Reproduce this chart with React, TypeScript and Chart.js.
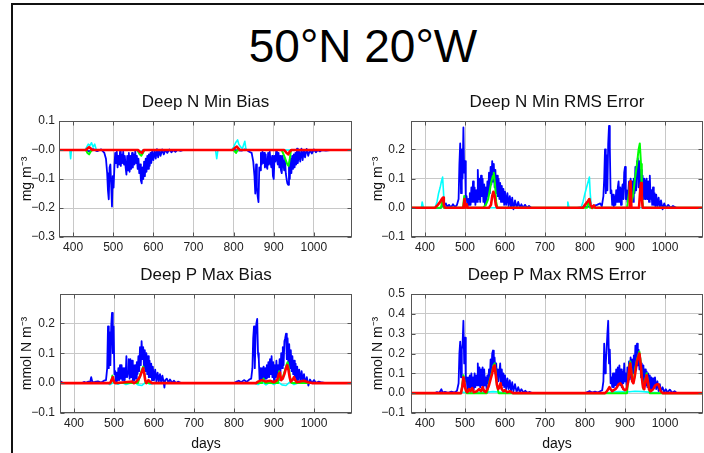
import React, { useEffect, useRef } from "react";
import { Chart, registerables } from "chart.js";
Chart.register(...registerables);

type Pt = [number, number];

const FONT = "'Liberation Sans', Arial, Helvetica, sans-serif";
const MAIN_TITLE = "50°N 20°W";
const DAY_MIN = 365;
const DAY_MAX = 1095;
const X_STEP = 100;
const X_LABEL = "days";

// ---------- Panel 1: Deep N Min Bias ----------
const nMinBiasBlue: Pt[] = [
  [365, 0], [430, 0], [440, -0.005], [450, 0.003], [460, -0.004], [470, 0.002], [478, -0.01], [482, -0.03],
  [485, -0.08], [487, -0.14], [489, -0.17], [491, -0.06], [493, -0.05], [495, -0.12], [497, -0.195], [499, -0.09],
  [501, -0.13], [503, -0.06], [505, -0.01], [507, -0.045], [509, -0.005], [511, -0.06], [513, -0.02], [515, -0.05],
  [517, -0.005], [519, -0.055], [521, -0.015], [523, -0.045], [525, -0.005], [527, -0.05], [529, -0.02], [531, -0.06],
  [533, -0.085], [535, -0.02], [537, -0.07], [539, -0.01], [541, -0.075], [543, -0.02], [545, -0.065], [547, -0.01],
  [549, -0.06], [551, -0.015], [553, -0.05], [555, -0.005], [557, -0.045], [559, -0.02], [561, -0.065], [563, -0.03],
  [565, -0.08], [567, -0.05], [569, -0.105], [571, -0.115], [573, -0.06], [575, -0.1], [577, -0.04], [579, -0.09],
  [581, -0.03], [583, -0.075], [585, -0.02], [587, -0.065], [589, -0.015], [591, -0.055], [593, -0.01], [595, -0.045],
  [597, -0.005], [600, -0.035], [603, -0.002], [606, -0.03], [609, 0.003], [612, -0.025], [615, 0], [618, -0.02],
  [622, 0.002], [626, -0.015], [630, 0], [635, -0.01], [640, 0.002], [645, -0.008], [650, 0], [655, -0.006],
  [660, 0], [668, -0.003], [675, 0], [800, 0], [820, -0.002], [830, 0.003], [838, -0.005], [845, -0.01],
  [849, -0.04], [852, -0.09], [854, -0.15], [856, -0.05], [858, -0.13], [860, -0.16], [862, -0.18], [864, -0.06],
  [866, -0.07], [868, -0.01], [870, -0.05], [872, -0.005], [874, -0.045], [876, -0.01], [878, -0.06], [880, -0.015],
  [882, -0.055], [884, -0.065], [886, -0.01], [888, -0.05], [890, -0.005], [892, -0.04], [894, -0.06], [896, -0.02],
  [898, -0.09], [900, -0.1], [902, -0.02], [904, -0.04], [906, -0.005], [908, -0.03], [910, -0.05], [912, -0.01],
  [914, -0.06], [916, -0.02], [918, -0.07], [920, -0.08], [922, -0.02], [924, -0.045], [926, -0.07], [928, -0.03],
  [930, -0.08], [932, -0.1], [934, -0.115], [936, -0.12], [938, -0.05], [940, -0.1], [942, -0.03], [944, -0.08],
  [946, -0.02], [948, -0.065], [950, -0.015], [952, -0.06], [954, -0.01], [956, -0.05], [958, 0.005], [960, -0.045],
  [963, -0.005], [966, -0.04], [969, 0.005], [972, -0.035], [975, 0], [978, -0.025], [982, 0.004], [986, -0.02],
  [990, 0], [995, -0.012], [1000, 0.002], [1005, -0.008], [1010, 0], [1015, -0.005], [1020, 0], [1030, -0.002],
  [1040, 0], [1095, 0],
];
const nMinBiasCyan: Pt[] = [
  [365, 0], [392, 0], [394, -0.03], [396, 0], [430, 0], [434, 0.01], [438, 0.02], [442, 0.015], [446, 0.025],
  [450, 0.01], [454, 0.02], [458, 0], [560, 0], [565, -0.01], [570, -0.005], [575, 0], [755, 0], [758, -0.03],
  [761, 0], [795, 0], [800, 0.01], [805, 0.025], [810, 0.035], [813, 0.02], [818, 0.01], [822, 0.005], [828, 0.03],
  [831, 0], [1095, 0],
];
const nMinBiasGreen: Pt[] = [
  [365, 0], [432, 0], [436, -0.01], [440, -0.015], [444, -0.005], [448, 0], [560, 0], [566, -0.015], [570, -0.02],
  [574, -0.01], [578, 0], [800, 0], [806, -0.01], [810, 0], [920, 0], [926, -0.02], [930, -0.035], [934, -0.05],
  [937, -0.055], [940, -0.03], [943, 0], [1095, 0],
];
const nMinBiasRed: Pt[] = [
  [365, 0], [432, 0], [436, 0.005], [440, 0.01], [444, 0.005], [448, 0], [562, 0], [568, -0.008], [572, -0.01],
  [576, 0], [798, 0], [804, 0.008], [808, 0.012], [812, 0.005], [816, 0], [926, 0], [932, -0.01], [936, -0.015],
  [940, -0.005], [944, 0], [1095, 0],
];

// ---------- Panel 2: Deep N Min RMS Error ----------
const nMinRmsBlue: Pt[] = [
  [365, 0], [440, 0], [445, 0.01], [448, 0.002], [452, 0.015], [456, 0.002], [460, 0.01], [465, 0.001], [470, 0.012],
  [475, 0.002], [480, 0.01], [484, 0.03], [486, 0.15], [488, 0.22], [490, 0.05], [492, 0.2], [494, 0.1], [496, 0.275],
  [498, 0.12], [500, 0.16], [502, 0.03], [504, 0.04], [506, 0.005], [508, 0.03], [510, 0.01], [512, 0.05], [514, 0.01],
  [516, 0.07], [518, 0.02], [520, 0.09], [522, 0.02], [524, 0.07], [526, 0.01], [528, 0.06], [530, 0.02], [532, 0.13],
  [534, 0.03], [536, 0.1], [538, 0.02], [540, 0.11], [542, 0.04], [544, 0.1], [546, 0.02], [548, 0.08], [550, 0.01],
  [552, 0.07], [554, 0.02], [556, 0.09], [558, 0.04], [560, 0.12], [562, 0.05], [564, 0.14], [566, 0.08], [568, 0.16],
  [570, 0.09], [572, 0.15], [574, 0.07], [576, 0.13], [578, 0.05], [580, 0.11], [582, 0.04], [584, 0.1], [586, 0.03],
  [588, 0.085], [590, 0.02], [592, 0.075], [594, 0.02], [596, 0.065], [598, 0.01], [600, 0.055], [603, 0.01],
  [606, 0.05], [609, 0.005], [612, 0.04], [615, 0.002], [618, 0.035], [621, -0.005], [625, 0.025], [629, 0],
  [633, 0.02], [637, 0], [641, 0.012], [645, 0], [650, 0.01], [655, 0], [660, 0.006], [665, 0],
  [780, 0], [800, 0.003], [820, 0.006], [830, 0.01], [838, 0.015], [842, 0.005], [846, 0.04], [848, 0.1], [850, 0.2],
  [852, 0.05], [854, 0.18], [856, 0.06], [858, 0.22], [860, 0.28], [862, 0.21], [864, 0.05], [866, 0.06], [868, 0.01],
  [870, 0.045], [872, 0.005], [874, 0.04], [876, 0.01], [878, 0.06], [880, 0.02], [882, 0.07], [884, 0.09], [886, 0.02],
  [888, 0.07], [890, 0.01], [892, 0.06], [894, 0.08], [896, 0.03], [898, 0.12], [900, 0.14], [902, 0.03], [904, 0.06],
  [906, 0.02], [908, 0.05], [910, 0.09], [912, 0.02], [914, 0.1], [916, 0.03], [918, 0.09], [920, 0.02], [922, 0.1],
  [924, 0.05], [926, 0.14], [928, 0.06], [930, 0.16], [932, 0.17], [934, 0.07], [936, 0.16], [938, 0.05], [940, 0.13],
  [942, 0.04], [944, 0.11], [946, 0.03], [948, 0.1], [950, 0.03], [952, 0.09], [954, 0.1], [956, 0.03], [958, 0.09],
  [960, 0.02], [962, 0.11], [964, 0.03], [966, 0.06], [968, 0.01], [970, 0.07], [972, 0.01], [974, 0.05], [976, 0.005],
  [978, 0.045], [981, 0.005], [984, 0.035], [987, 0], [990, 0.025], [994, -0.005], [998, 0.015], [1002, 0],
  [1008, 0.01], [1014, 0], [1020, 0.006], [1028, 0], [1095, 0],
];
const nMinRmsCyan: Pt[] = [
  [365, 0], [391, 0], [393, 0.02], [396, 0], [425, 0], [430, 0.02], [434, 0.05], [438, 0.07], [441, 0.09],
  [444, 0.105], [446, 0.06], [448, 0.01], [452, 0], [755, 0], [757, 0.02], [760, 0], [790, 0], [795, 0.02],
  [800, 0.05], [804, 0.07], [808, 0.09], [811, 0.105], [813, 0.05], [816, 0], [1095, 0],
];
const nMinRmsGreen: Pt[] = [
  [365, 0], [440, 0], [444, 0.03], [447, 0], [495, 0], [498, 0.04], [501, 0], [545, 0], [552, 0.01], [558, 0.03],
  [562, 0.06], [566, 0.09], [570, 0.11], [572, 0.12], [575, 0.08], [578, 0.02], [581, 0], [805, 0], [810, 0.03],
  [813, 0], [905, 0], [910, 0.05], [913, 0.09], [916, 0.02], [920, 0.04], [925, 0.1], [930, 0.15], [934, 0.2],
  [937, 0.22], [940, 0.15], [942, 0.05], [945, 0], [1095, 0],
];
const nMinRmsRed: Pt[] = [
  [365, 0], [425, 0], [432, 0.01], [438, 0.02], [442, 0.03], [445, 0.035], [447, 0.01], [450, 0], [496, 0],
  [499, 0.03], [501, 0], [504, 0.012], [507, 0], [560, 0], [565, 0.01], [568, 0.04], [571, 0.055], [574, 0.04],
  [577, 0.01], [580, 0], [795, 0], [800, 0.01], [806, 0.02], [811, 0.03], [814, 0.01], [818, 0], [822, 0.008],
  [826, 0], [910, 0], [912, 0.085], [914, 0.09], [916, 0], [935, 0], [938, 0.06], [940, 0.085], [942, 0.04],
  [944, 0], [1095, 0],
];

// ---------- Panel 3: Deep P Max Bias ----------
const pMaxBiasBlue: Pt[] = [
  [365, 0], [368, 0.005], [372, 0], [420, 0], [425, 0.004], [430, 0.001], [436, 0.005], [440, 0.002], [443, 0.02],
  [446, 0.003], [452, 0.004], [460, 0.006], [468, 0.002], [475, 0.008], [480, 0.01], [483, 0.05], [485, 0.19],
  [487, 0.05], [489, 0.17], [491, 0.06], [493, 0.19], [495, 0.235], [497, 0.1], [499, 0.19], [501, 0.03], [503, 0.04],
  [505, 0.005], [507, 0.035], [509, 0.01], [511, 0.05], [513, 0.01], [515, 0.06], [517, 0.015], [519, 0.06],
  [521, 0.01], [523, 0.05], [525, 0.01], [527, 0.05], [529, 0.02], [531, 0.09], [533, 0.02], [535, 0.04],
  [537, 0.08], [539, 0.015], [541, 0.08], [543, 0.02], [545, 0.075], [547, 0.01], [549, 0.06], [551, 0.01],
  [553, 0.06], [555, 0.015], [557, 0.07], [559, 0.03], [561, 0.09], [563, 0.04], [565, 0.12], [567, 0.06], [569, 0.14],
  [571, 0.08], [573, 0.12], [575, 0.05], [577, 0.11], [579, 0.04], [581, 0.1], [583, 0.03], [585, 0.09], [587, 0.02],
  [589, 0.075], [591, 0.02], [593, 0.065], [595, 0.01], [597, 0.055], [600, 0.01], [603, 0.045], [606, 0.005],
  [609, 0.035], [612, 0.005], [615, 0.03], [618, 0.002], [621, 0.025], [624, 0.005], [626, -0.015], [628, 0.01],
  [632, 0.015], [636, 0.002], [640, 0.012], [645, 0.001], [650, 0.008], [655, 0], [660, 0.005], [668, 0],
  [800, 0], [805, 0.004], [812, 0.008], [818, 0.003], [825, 0.01], [832, 0.004], [838, 0.012], [843, 0.015],
  [846, 0.05], [848, 0.15], [850, 0.19], [852, 0.05], [854, 0.16], [856, 0.2], [858, 0.215], [860, 0.1], [862, 0.08],
  [864, 0.01], [866, 0.05], [868, 0.01], [870, 0.05], [872, 0.01], [874, 0.055], [876, 0.01], [878, 0.05],
  [880, 0.015], [882, 0.06], [884, 0.02], [886, 0.07], [888, 0.02], [890, 0.08], [892, 0.03], [894, 0.09],
  [896, 0.02], [898, 0.07], [900, 0.01], [902, 0.06], [904, 0.02], [906, 0.075], [908, 0.02], [910, 0.06],
  [912, 0.01], [914, 0.08], [916, 0.03], [918, 0.1], [920, 0.05], [922, 0.12], [924, 0.06], [926, 0.14], [928, 0.15],
  [930, 0.165], [932, 0.08], [934, 0.15], [936, 0.06], [938, 0.13], [940, 0.05], [942, 0.11], [944, 0.04], [946, 0.09],
  [948, 0.03], [950, 0.075], [952, 0.02], [954, 0.065], [956, 0.01], [958, 0.055], [960, 0.01], [963, 0.045],
  [966, 0.005], [969, 0.04], [972, 0.005], [975, 0.03], [978, 0], [982, 0.02], [986, -0.008], [990, 0.012],
  [995, 0], [1000, 0.01], [1005, 0], [1012, 0.005], [1020, 0.002], [1030, 0], [1095, 0],
];
const pMaxBiasCyan: Pt[] = [
  [365, 0], [485, 0], [490, -0.005], [500, 0.003], [510, -0.004], [520, 0.002], [530, -0.005], [550, 0.004],
  [560, -0.006], [570, -0.008], [580, 0.003], [590, -0.004], [600, 0], [850, 0], [860, -0.005], [870, 0.004],
  [880, -0.006], [890, 0.003], [900, -0.005], [910, 0.004], [920, -0.006], [930, -0.008], [940, 0.004],
  [950, -0.005], [960, 0], [1095, 0],
];
const pMaxBiasGreen: Pt[] = [
  [365, 0], [492, 0], [496, 0.025], [499, 0.005], [502, 0], [560, 0], [566, 0.03], [570, 0.045], [573, 0.055],
  [576, 0.03], [579, 0], [870, 0], [874, 0.015], [878, 0], [910, 0], [913, 0.04], [916, 0.01], [922, 0.02],
  [927, 0.04], [931, 0.06], [934, 0.07], [937, 0.05], [940, 0.02], [944, 0], [1095, 0],
];
const pMaxBiasRed: Pt[] = [
  [365, 0], [490, 0], [494, 0.01], [497, 0.02], [500, 0.005], [503, 0], [520, 0.002], [545, 0.005], [550, 0],
  [556, 0.005], [562, 0.015], [566, 0.025], [570, 0.04], [573, 0.05], [576, 0.03], [578, 0.01], [581, 0],
  [586, 0.01], [590, 0.005], [595, 0], [855, 0], [860, 0.005], [870, 0.01], [880, 0.005], [890, 0.008],
  [900, 0.003], [908, 0.01], [912, 0.03], [915, 0.035], [918, 0.01], [922, 0.015], [926, 0.03], [930, 0.05],
  [933, 0.06], [936, 0.045], [939, 0.02], [942, 0.005], [946, 0.01], [950, 0.02], [953, 0.01], [957, 0.003],
  [965, 0.005], [975, 0.008], [985, 0.003], [995, 0], [1095, 0],
];

// ---------- Panel 4: Deep P Max RMS Error ----------
const pMaxRmsBlue: Pt[] = [
  [365, 0], [425, 0], [430, 0.005], [436, 0.002], [441, 0.02], [444, 0.003], [450, 0.006], [458, 0.002],
  [466, 0.008], [474, 0.003], [480, 0.012], [484, 0.05], [486, 0.2], [488, 0.26], [490, 0.08], [492, 0.22],
  [494, 0.25], [496, 0.365], [498, 0.15], [500, 0.28], [502, 0.06], [504, 0.08], [506, 0.02], [508, 0.08],
  [510, 0.02], [512, 0.09], [514, 0.03], [516, 0.1], [518, 0.02], [520, 0.08], [522, 0.02], [524, 0.1], [526, 0.03],
  [528, 0.09], [530, 0.04], [532, 0.15], [534, 0.04], [536, 0.13], [538, 0.03], [540, 0.12], [542, 0.04], [544, 0.13],
  [546, 0.03], [548, 0.12], [550, 0.04], [552, 0.08], [554, 0.02], [556, 0.09], [558, 0.05], [560, 0.12],
  [562, 0.07], [564, 0.17], [566, 0.1], [568, 0.2], [570, 0.215], [572, 0.12], [574, 0.18], [576, 0.1],
  [578, 0.15], [580, 0.07], [582, 0.12], [584, 0.06], [586, 0.11], [588, 0.15], [590, 0.05], [592, 0.12],
  [594, 0.04], [596, 0.1], [598, 0.03], [600, 0.09], [603, 0.02], [606, 0.075], [609, 0.02], [612, 0.065],
  [615, 0.01], [618, 0.055], [621, 0.01], [625, 0.045], [629, 0.005], [633, 0.03], [637, 0.005], [641, 0.02],
  [646, 0.003], [651, 0.012], [656, 0.002], [662, 0.006], [668, 0], [800, 0], [806, 0.005], [812, 0.01],
  [818, 0.003], [825, 0.008], [832, 0.003], [838, 0.01], [843, 0.015], [846, 0.06], [848, 0.25], [850, 0.1],
  [852, 0.15], [854, 0.22], [856, 0.3], [858, 0.365], [860, 0.15], [862, 0.22], [864, 0.05], [866, 0.08], [868, 0.03],
  [870, 0.1], [872, 0.03], [874, 0.1], [876, 0.04], [878, 0.12], [880, 0.04], [882, 0.13], [884, 0.05], [886, 0.14],
  [888, 0.04], [890, 0.12], [892, 0.03], [894, 0.11], [896, 0.05], [898, 0.15], [900, 0.06], [902, 0.1], [904, 0.04],
  [906, 0.13], [908, 0.05], [910, 0.16], [912, 0.07], [914, 0.18], [916, 0.08], [918, 0.17], [920, 0.1], [922, 0.19],
  [924, 0.12], [926, 0.24], [928, 0.15], [930, 0.25], [932, 0.14], [934, 0.22], [936, 0.12], [938, 0.18], [940, 0.08],
  [942, 0.15], [944, 0.06], [946, 0.14], [948, 0.05], [950, 0.12], [952, 0.04], [954, 0.11], [956, 0.03], [958, 0.1],
  [960, 0.03], [962, 0.09], [964, 0.02], [966, 0.08], [968, 0.02], [970, 0.075], [972, 0.03], [975, 0.08],
  [978, 0.02], [981, 0.06], [984, 0.01], [987, 0.045], [990, 0.01], [994, 0.03], [998, 0.005], [1002, 0.02],
  [1006, 0.003], [1012, 0.018], [1018, 0.002], [1024, 0.01], [1030, 0], [1036, 0], [1095, 0],
];
const pMaxRmsCyan: Pt[] = [
  [365, 0], [485, 0], [495, 0.005], [510, 0.003], [530, 0.006], [550, 0.004], [570, 0.008], [590, 0.005],
  [610, 0.002], [630, 0], [850, 0], [865, 0.005], [885, 0.008], [905, 0.006], [925, 0.01], [945, 0.008],
  [965, 0.004], [985, 0.002], [1000, 0], [1095, 0],
];
const pMaxRmsGreen: Pt[] = [
  [365, 0], [490, 0], [493, 0.04], [496, 0.09], [498, 0.07], [500, 0.03], [504, 0], [555, 0], [560, 0.05],
  [564, 0.08], [568, 0.11], [571, 0.14], [574, 0.15], [577, 0.1], [580, 0.04], [584, 0], [905, 0], [908, 0.07],
  [911, 0.14], [913, 0.16], [915, 0.13], [918, 0.07], [922, 0.06], [926, 0.13], [930, 0.17], [933, 0.19],
  [936, 0.21], [939, 0.16], [942, 0.08], [946, 0.02], [950, 0.06], [954, 0.1], [958, 0.05], [962, 0], [1095, 0],
];
const pMaxRmsRed: Pt[] = [
  [365, 0], [490, 0], [493, 0.03], [496, 0.08], [498, 0.06], [500, 0.03], [503, 0.01], [506, 0.005], [510, 0.02],
  [514, 0.01], [518, 0.025], [522, 0.005], [530, 0.01], [535, 0.02], [540, 0.01], [544, 0.03], [548, 0.01],
  [552, 0.005], [556, 0.02], [560, 0.04], [564, 0.07], [568, 0.1], [571, 0.13], [574, 0.14], [577, 0.09],
  [580, 0.04], [583, 0.02], [586, 0.03], [589, 0.05], [592, 0.02], [596, 0.01], [600, 0.015], [605, 0.005],
  [612, 0.01], [620, 0], [850, 0], [855, 0.01], [858, 0.02], [861, 0.03], [864, 0.02], [868, 0.01], [872, 0.015],
  [876, 0.02], [880, 0.03], [884, 0.045], [888, 0.05], [892, 0.04], [896, 0.02], [900, 0.015], [904, 0.02],
  [908, 0.06], [911, 0.13], [913, 0.15], [915, 0.12], [918, 0.06], [921, 0.05], [924, 0.08], [927, 0.12],
  [930, 0.16], [933, 0.18], [936, 0.2], [939, 0.15], [942, 0.08], [945, 0.03], [948, 0.02], [951, 0.06],
  [954, 0.09], [957, 0.06], [960, 0.02], [964, 0.01], [968, 0.015], [972, 0.025], [976, 0.04], [980, 0.045],
  [983, 0.045], [986, 0.03], [989, 0.01], [994, 0], [1095, 0],
];

const COLORS = { blue: "#0000ff", cyan: "#00ffff", green: "#00ff00", red: "#ff0000" };

type PanelSpec = {
  title: string;
  yLabel: string;
  yMin: number;
  yMax: number;
  negZero: boolean;
  showDays: boolean;
  blue: Pt[];
  cyan: Pt[];
  green: Pt[];
  red: Pt[];
  left: number;
  top: number;
  w: number;
  h: number;
  yAxisW: number;
  xAxisH: number;
  padRight: number;
  titleTop: number;
  titleBottom: number;
  yTitlePad: number;
  yTickPad: number;
};

const panels: PanelSpec[] = [
  {
    title: "Deep N Min Bias", yLabel: "mg m⁻³", yMin: -0.3, yMax: 0.1, negZero: true, showDays: false,
    blue: nMinBiasBlue, cyan: nMinBiasCyan, green: nMinBiasGreen, red: nMinBiasRed,
    left: 12, top: 80, w: 350, h: 177, yAxisW: 47, xAxisH: 20, padRight: 10,
    titleTop: 12, titleBottom: 8.6, yTitlePad: 6.6, yTickPad: 4,
  },
  {
    title: "Deep N Min RMS Error", yLabel: "mg m⁻³", yMin: -0.1, yMax: 0.297, negZero: false, showDays: false,
    blue: nMinRmsBlue, cyan: nMinRmsCyan, green: nMinRmsGreen, red: nMinRmsRed,
    left: 362, top: 80, w: 342, h: 177, yAxisW: 49, xAxisH: 20, padRight: 1,
    titleTop: 12, titleBottom: 8.6, yTitlePad: 7.6, yTickPad: 6,
  },
  {
    title: "Deep P Max Bias", yLabel: "mmol N m⁻³", yMin: -0.1, yMax: 0.298, negZero: false, showDays: true,
    blue: pMaxBiasBlue, cyan: pMaxBiasCyan, green: pMaxBiasGreen, red: pMaxBiasRed,
    left: 12, top: 257, w: 350, h: 196, yAxisW: 48, xAxisH: 40, padRight: 10,
    titleTop: 8, titleBottom: 8.6, yTitlePad: 7.1, yTickPad: 5,
  },
  {
    title: "Deep P Max RMS Error", yLabel: "mmol N m⁻³", yMin: -0.1, yMax: 0.5, negZero: false, showDays: true,
    blue: pMaxRmsBlue, cyan: pMaxRmsCyan, green: pMaxRmsGreen, red: pMaxRmsRed,
    left: 362, top: 257, w: 342, h: 196, yAxisW: 49, xAxisH: 40, padRight: 1,
    titleTop: 8, titleBottom: 8.6, yTitlePad: 7.6, yTickPad: 6,
  },
];

const toXY = (pts: Pt[]) => pts.map(([x, y]) => ({ x, y }));

const framePlugin = {
  id: "plotFrame",
  afterDatasetsDraw(chart: any) {
    const { ctx, chartArea: a, scales } = chart;
    ctx.save();
    ctx.strokeStyle = "#555";
    ctx.lineWidth = 1;
    const l = Math.round(a.left) + 0.5;
    const t = Math.round(a.top) + 0.5;
    const r = Math.round(a.right) - 0.5;
    const b = Math.round(a.bottom) - 0.5;
    ctx.strokeRect(l, t, r - l, b - t);
    const L = 4;
    ctx.beginPath();
    for (const tk of scales.x.ticks) {
      const px = Math.round(scales.x.getPixelForValue(tk.value)) + 0.5;
      ctx.moveTo(px, t); ctx.lineTo(px, t + L);
      ctx.moveTo(px, b); ctx.lineTo(px, b - L);
    }
    for (const tk of scales.y.ticks) {
      const py = Math.round(scales.y.getPixelForValue(tk.value)) + 0.5;
      ctx.moveTo(l, py); ctx.lineTo(l + L, py);
      ctx.moveTo(r, py); ctx.lineTo(r - L, py);
    }
    ctx.stroke();
    ctx.restore();
  },
};

function Panel({ spec }: { spec: PanelSpec }) {
  const ref = useRef<HTMLCanvasElement>(null);
  useEffect(() => {
    const tickFont = { family: FONT, size: 12 };
    const chart = new Chart(ref.current as HTMLCanvasElement, {
      type: "line",
      data: {
        datasets: [
          { data: toXY(spec.red), borderColor: COLORS.red, borderWidth: 2.6 },
          { data: toXY(spec.green), borderColor: COLORS.green, borderWidth: 2 },
          { data: toXY(spec.cyan), borderColor: COLORS.cyan, borderWidth: 1.6 },
          { data: toXY(spec.blue), borderColor: COLORS.blue, borderWidth: 1.8 },
        ] as any,
      },
      options: {
        animation: false,
        responsive: false,
        maintainAspectRatio: false,
        devicePixelRatio: 1,
        layout: { padding: { left: 0, right: spec.padRight, top: 0, bottom: 0 } },
        elements: { point: { radius: 0 }, line: { tension: 0, borderJoinStyle: "round" } },
        plugins: {
          legend: { display: false },
          tooltip: { enabled: false },
          title: {
            display: true,
            text: spec.title,
            fullSize: false,
            color: "#111",
            font: { family: FONT, size: 17, weight: "normal" },
            padding: { top: spec.titleTop, bottom: spec.titleBottom },
          },
        },
        scales: {
          x: {
            type: "linear",
            min: DAY_MIN,
            max: DAY_MAX,
            ticks: {
              stepSize: X_STEP, includeBounds: false, font: tickFont, color: "#222", padding: 3, maxRotation: 0,
              callback: (v: any) => String(Math.round(Number(v))),
            },
            grid: { color: "#c8c8c8", drawTicks: false },
            border: { display: false },
            title: {
              display: spec.showDays,
              text: X_LABEL,
              color: "#111",
              font: { family: FONT, size: 14 },
              padding: { top: 0, bottom: 0.5 },
            },
            afterFit: (s: any) => { s.height = spec.xAxisH; },
          },
          y: {
            type: "linear",
            min: spec.yMin,
            max: spec.yMax,
            ticks: {
              stepSize: 0.1,
              includeBounds: false,
              font: tickFont,
              color: "#222",
              padding: spec.yTickPad,
              callback: (v: any) => {
                const n = Number(v);
                if (Math.abs(n) < 1e-9) return spec.negZero ? "\u22120.0" : "0.0";
                const s = Math.abs(n).toFixed(1);
                return n < 0 ? "\u2212" + s : s;
              },
            },
            grid: { color: "#c8c8c8", drawTicks: false },
            border: { display: false },
            title: {
              display: true,
              text: spec.yLabel,
              color: "#111",
              font: { family: FONT, size: 14 },
              padding: { top: spec.yTitlePad, bottom: 0 },
            },
            afterFit: (s: any) => { s.width = spec.yAxisW; },
          },
        },
      } as any,
      plugins: [framePlugin],
    });
    return () => chart.destroy();
  }, [spec]);
  return (
    <canvas
      ref={ref}
      width={spec.w}
      height={spec.h}
      style={{ position: "absolute", left: spec.left, top: spec.top, width: spec.w, height: spec.h }}
    />
  );
}

export default function App() {
  return (
    <div
      style={{
        position: "fixed", left: 0, top: 0, width: 704, height: 453,
        background: "#fff", overflow: "hidden", fontFamily: FONT,
      }}
    >
      <div
        style={{
          position: "absolute", left: 11, top: 3, width: 800, height: 600,
          borderLeft: "2px solid #111", borderTop: "2px solid #111",
        }}
      />
      <div
        style={{
          position: "absolute", left: 213, top: 23, width: 300, textAlign: "center",
          fontSize: 46, lineHeight: "46px", color: "#000", fontFamily: FONT,
        }}
      >
        {MAIN_TITLE}
      </div>
      {panels.map((p) => (
        <Panel key={p.title} spec={p} />
      ))}
    </div>
  );
}
